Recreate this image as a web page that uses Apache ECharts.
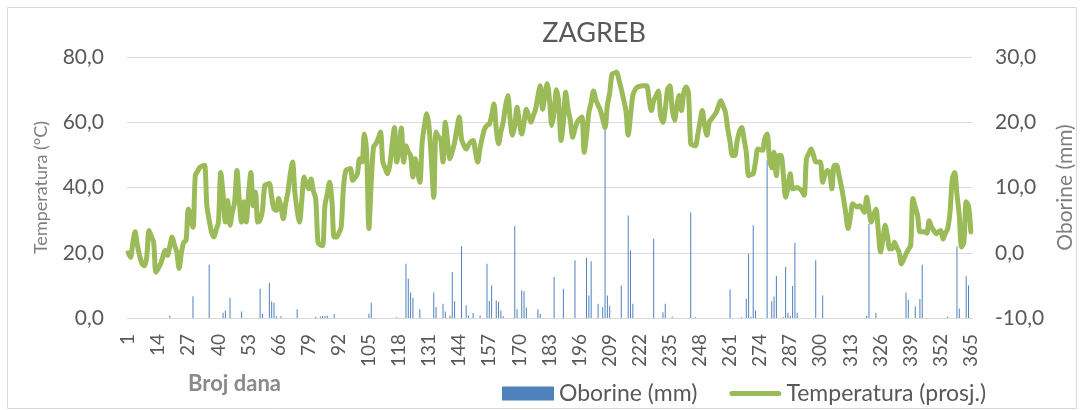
<!DOCTYPE html>
<html>
<head>
<meta charset="utf-8">
<script src="https://cdn.jsdelivr.net/npm/echarts@6/dist/echarts.min.js"></script>
<style>
  html, body { margin: 0; padding: 0; background: #fff; }
  #chart { width: 1084px; height: 410px; }
</style>
</head>
<body>
<div id="chart"></div>
<script>
// dnevna prosječna temperatura (°C), dan 1..365
const temperatura = [
  0.0, -0.7, 1.5, 3.2, 1.1, -0.5, -1.7, -2.0, -0.7, 3.4,
  2.5, 1.6, -3.0, -2.4, -1.7, -0.6, 0.4, -0.4, 1.0, 2.4,
  1.2, 0.1, -2.4, 0.0, 1.6, 1.9, 6.7, 5.2, 3.9, 11.8,
  12.5, 13.1, 13.3, 13.4, 7.2, 5.0, 3.2, 2.4, 3.5, 4.7,
  12.3, 9.0, 4.7, 8.0, 4.2, 6.2, 7.8, 12.6, 8.0, 4.7,
  7.8, 4.7, 9.0, 12.3, 7.2, 9.3, 4.7, 5.0, 6.5, 10.3,
  10.5, 10.6, 8.5, 6.7, 6.5, 8.3, 7.0, 5.2, 7.5, 9.3,
  12.0, 13.9, 9.3, 6.5, 4.7, 8.0, 11.6, 10.5, 9.8, 11.3,
  9.5, 8.3, 1.6, 1.2, 1.1, 7.2, 9.0, 10.8, 8.0, 2.4,
  2.4, 3.0, 3.9, 10.0, 12.6, 12.8, 12.9, 11.1, 11.5, 12.1,
  14.4, 13.9, 18.2, 15.4, 3.7, 10.8, 16.2, 16.7, 17.5, 18.5,
  13.9, 13.0, 12.1, 13.4, 16.5, 19.2, 13.9, 16.0, 19.1, 13.9,
  16.4, 15.5, 14.9, 11.6, 14.4, 12.5, 10.8, 16.9, 19.5, 21.3,
  19.2, 14.0, 8.5, 18.5, 17.8, 17.4, 13.9, 20.0, 17.0, 14.4,
  15.5, 16.9, 19.0, 20.8, 17.4, 16.5, 15.9, 16.5, 17.0, 17.2,
  15.5, 13.9, 16.0, 17.7, 19.0, 19.5, 19.7, 21.0, 22.8, 19.0,
  16.7, 18.5, 20.0, 22.5, 24.1, 20.5, 18.0, 19.5, 22.3, 20.0,
  18.2, 20.0, 22.0, 21.0, 20.0, 21.0, 22.0, 24.0, 25.6, 22.0,
  24.0, 25.9, 23.5, 19.5, 21.5, 25.0, 23.0, 17.2, 20.0, 24.6,
  22.0, 20.3, 17.7, 19.0, 20.0, 20.5, 20.8, 15.4, 18.0, 21.5,
  23.0, 24.8, 23.5, 22.6, 21.8, 20.5, 19.2, 22.6, 24.5, 27.4,
  27.5, 27.7, 26.5, 25.1, 23.5, 21.8, 18.0, 21.0, 24.1, 25.0,
  25.4, 25.5, 25.6, 25.6, 25.6, 23.5, 21.8, 23.3, 24.0, 24.8,
  21.0, 20.0, 22.0, 25.0, 25.6, 22.0, 20.3, 22.5, 24.1, 21.8,
  24.5, 25.4, 24.6, 16.7, 16.5, 16.4, 18.0, 20.0, 21.8, 19.5,
  18.0, 20.0, 20.5, 21.0, 21.5, 22.5, 23.3, 22.5, 21.5, 19.0,
  17.0, 14.9, 14.9, 17.0, 18.5, 19.2, 17.5, 15.4, 11.8, 12.0,
  12.1, 14.0, 15.9, 15.8, 15.7, 17.5, 18.2, 14.5, 13.0, 15.4,
  11.8, 14.9, 14.9, 12.0, 8.5, 10.0, 12.1, 9.8, 9.9, 10.0,
  9.8, 9.5, 8.8, 14.4, 15.2, 15.9, 15.0, 13.9, 13.9, 13.9,
  10.8, 12.0, 12.6, 12.3, 9.8, 13.4, 13.4, 12.0, 10.3, 8.3,
  6.0, 3.7, 5.5, 7.5, 7.2, 7.0, 7.2, 6.8, 6.2, 8.5,
  6.5, 4.7, 5.8, 6.7, 3.5, 0.1, 2.0, 4.2, 2.5, 0.6,
  0.6, 1.6, 0.8, 0.1, -1.7, -1.0, -0.2, 0.5, 1.1, 8.3,
  7.0, 5.7, 3.2, 3.2, 3.2, 3.0, 4.9, 4.0, 3.4, 2.9,
  3.2, 3.4, 2.1, 3.0, 3.7, 6.2, 11.3, 12.3, 9.0, 5.7,
  0.9, 1.6, 7.8, 7.2, 3.2
];

// dani s oborinom i količina (mm); ostali dani 0
const kisniDani = [
  19, 29, 36, 42, 43, 45, 50, 58, 59, 62, 63, 64, 65, 67, 74, 82, 84, 85, 86, 87, 90,
  105, 106, 117, 121, 122, 123, 124, 127, 133, 134, 137, 138, 140, 141, 142, 145, 147, 148, 150,
  153, 156, 157, 158, 160, 161, 162, 163, 168, 169, 171, 172, 173, 178, 179, 185, 189, 194,
  199, 200, 201, 204, 206, 207, 208, 209, 214, 217, 218, 219, 228, 232, 233, 236, 244, 246,
  261, 266, 268, 269, 270, 271, 272, 277, 279, 280, 281, 284, 285, 286, 287, 288, 289, 290,
  298, 301, 320, 321, 324, 337, 338, 341, 343, 344, 355, 359, 360, 363, 364
];
const kisaMm = [
  0.8, 6.7, 16.3, 1.6, 2.3, 6.1, 2.0, 9.0, 1.3, 10.7, 5.1, 4.7, 0.5, 0.5, 2.7, 0.4, 0.4, 0.6, 0.6, 0.7, 1.2,
  1.3, 4.7, 0.2, 16.6, 12.0, 7.8, 6.2, 2.7, 7.8, 3.4, 4.4, 2.0, 0.8, 14.1, 5.1, 22.0, 3.9, 0.8, 1.5,
  0.8, 16.6, 5.2, 10.0, 5.4, 4.9, 2.3, 0.5, 28.2, 2.7, 8.5, 8.2, 3.2, 2.7, 1.3, 12.6, 9.0, 17.7,
  18.5, 6.9, 17.4, 4.4, 3.4, 58.0, 6.9, 3.7, 10.0, 31.4, 20.7, 4.4, 24.3, 1.8, 4.4, 0.4, 32.4, 0.2,
  8.7, 0.2, 5.9, 19.7, 0.4, 28.4, 2.3, 48.3, 5.1, 6.6, 12.9, 0.2, 15.6, 1.6, 0.6, 9.8, 23.1, 1.6,
  17.7, 6.9, 0.6, 28.9, 1.6, 7.8, 5.6, 3.6, 5.8, 16.3, 0.4, 21.9, 2.9, 12.8, 10.0
];

const dani = temperatura.map((t, i) => String(i + 1));
const oborine = dani.map(() => 0);
kisniDani.forEach((d, i) => { oborine[d - 1] = kisaMm[i]; });

const FONT = 'Lato, "Open Sans", sans-serif';
const fmt = v => v.toFixed(1).replace('.', ',');

// zaobljena crta za legendu (male točke u kutovima drže okvir 52x14)
const lineIcon = 'path://M0,0h0.05v0.05h-0.05z M2.5,4.5h47a2.5,2.5 0 0 1 0,5h-47a2.5,2.5 0 0 1 0,-5z M52,14h-0.05v-0.05h0.05z';

const chart = echarts.init(document.getElementById('chart'));

chart.setOption({
  backgroundColor: '#fff',
  animation: false,
  textStyle: { fontFamily: FONT },
  title: {
    text: 'ZAGREB',
    left: 589,
    textAlign: 'center',
    top: 15,
    textStyle: { fontFamily: FONT, fontSize: 27, fontWeight: 'normal', color: '#595959' }
  },
  graphic: [
    {
      type: 'rect',
      shape: { x: 7.5, y: 7.5, width: 1069, height: 401 },
      style: { fill: 'none', stroke: '#d9d9d9', lineWidth: 1 },
      silent: true
    },
    {
      type: 'text',
      left: 188,
      top: 373,
      style: {
        text: 'Broj dana',
        font: 'bold 22px ' + FONT,
        fill: '#8a8a8a',
        shadowColor: 'rgba(120,120,120,0.6)',
        shadowBlur: 2
      }
    }
  ],
  legend: {
    left: 502,
    top: 382,
    padding: 0,
    itemWidth: 52,
    itemHeight: 14,
    itemGap: 32,
    textStyle: { fontFamily: FONT, fontSize: 23, color: '#595959' },
    data: [
      { name: 'Oborine (mm)', icon: 'rect' },
      { name: 'Temperatura (prosj.)', icon: lineIcon }
    ]
  },
  grid: { left: 127, right: 105, top: 57, bottom: 92 },
  xAxis: {
    type: 'category',
    data: dani,
    boundaryGap: true,
    axisLine: { lineStyle: { color: '#d9d9d9' } },
    axisTick: { show: false },
    axisLabel: {
      interval: 12,
      rotate: 90,
      margin: 16,
      fontSize: 19,
      color: '#595959',
      fontFamily: FONT
    }
  },
  yAxis: [
    {
      type: 'value',
      min: 0,
      max: 80,
      interval: 20,
      name: 'Temperatura (°C)',
      nameLocation: 'middle',
      nameRotate: 90,
      nameGap: 77,
      nameTextStyle: { fontSize: 18, color: '#7f7f7f', fontFamily: FONT },
      axisLine: { show: false },
      axisTick: { show: false },
      axisLabel: { formatter: fmt, fontSize: 21, color: '#595959', margin: 23, fontFamily: FONT },
      splitLine: { lineStyle: { color: '#d9d9d9', width: 1 } }
    },
    {
      type: 'value',
      min: -10,
      max: 30,
      interval: 10,
      position: 'right',
      name: 'Oborine (mm)',
      nameLocation: 'middle',
      nameRotate: 90,
      nameGap: 73,
      nameTextStyle: { fontSize: 21, color: '#7f7f7f', fontFamily: FONT },
      axisLine: { show: false },
      axisTick: { show: false },
      axisLabel: { formatter: fmt, fontSize: 21, color: '#595959', margin: 23, fontFamily: FONT },
      splitLine: { show: false }
    }
  ],
  series: [
    {
      name: 'Oborine (mm)',
      type: 'bar',
      yAxisIndex: 0,
      data: oborine,
      barWidth: 1,
      itemStyle: { color: '#4f81bd' }
    },
    {
      name: 'Temperatura (prosj.)',
      type: 'line',
      yAxisIndex: 1,
      data: temperatura,
      symbol: 'none',
      smooth: 0.3,
      lineStyle: { color: '#9bbb59', width: 5, cap: 'round', join: 'round' },
      itemStyle: { color: '#9bbb59' }
    }
  ]
});
</script>
</body>
</html>
